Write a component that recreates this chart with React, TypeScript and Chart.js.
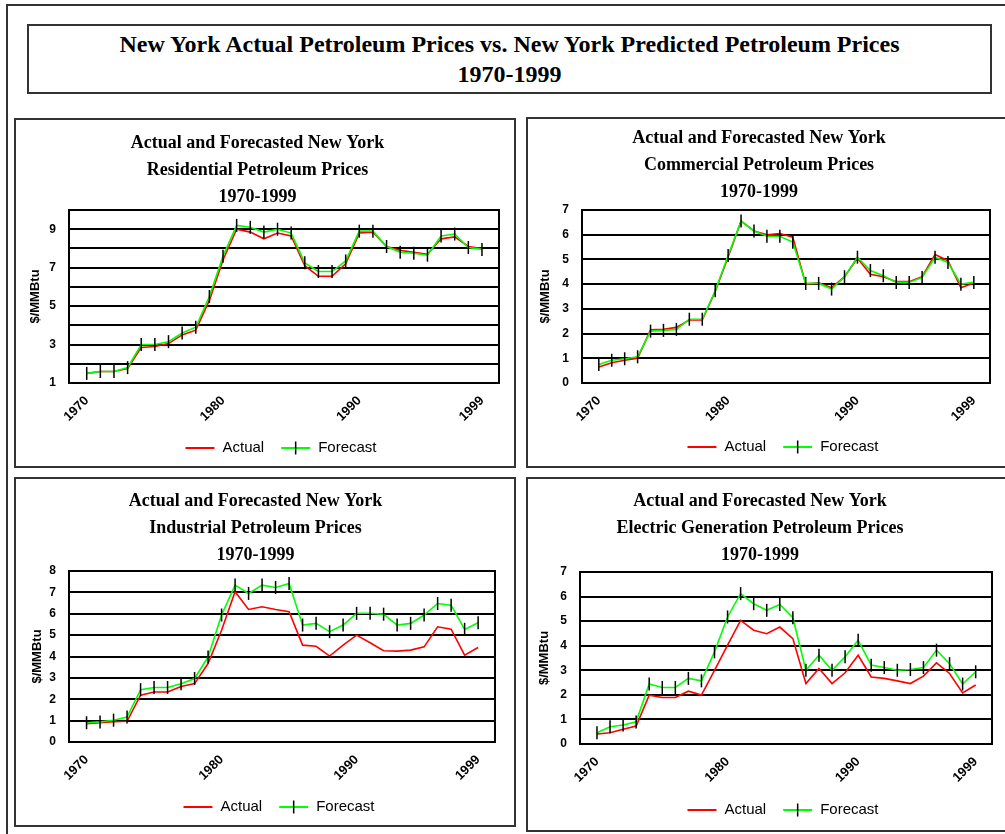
import React, { useEffect, useRef } from 'react';
import { Chart, registerables } from 'chart.js';

Chart.register(...registerables);

// ---------- data ----------
const YEARS = [1970, 1971, 1972, 1973, 1974, 1975, 1976, 1977, 1978, 1979, 1980, 1981, 1982, 1983, 1984, 1985, 1986, 1987, 1988, 1989, 1990, 1991, 1992, 1993, 1994, 1995, 1996, 1997, 1998, 1999];
const X_TICKS = [1970, 1980, 1990, 1999];

const RES_ACTUAL = [1.5, 1.6, 1.6, 1.75, 2.85, 2.9, 3.05, 3.5, 3.75, 5.3, 7.4, 9.0, 8.85, 8.5, 8.8, 8.65, 7.1, 6.55, 6.55, 7.2, 8.8, 8.85, 8.1, 7.9, 7.8, 7.7, 8.5, 8.6, 8.1, 8.0];
const RES_FORECAST = [1.5, 1.6, 1.6, 1.8, 3.0, 3.0, 3.15, 3.6, 3.9, 5.5, 7.6, 9.2, 9.1, 8.85, 9.0, 8.8, 7.25, 6.8, 6.8, 7.35, 8.9, 8.9, 8.1, 7.8, 7.75, 7.65, 8.65, 8.75, 8.05, 7.95];

const COM_ACTUAL = [0.65, 0.82, 0.92, 1.0, 2.15, 2.17, 2.25, 2.55, 2.55, 3.7, 5.1, 6.55, 6.15, 6.0, 6.05, 5.9, 4.0, 4.05, 3.85, 4.3, 5.05, 4.4, 4.3, 4.1, 4.1, 4.3, 5.2, 4.95, 3.85, 4.05];
const COM_FORECAST = [0.75, 0.92, 0.98, 1.06, 2.1, 2.13, 2.17, 2.58, 2.58, 3.73, 5.16, 6.55, 6.15, 5.94, 5.94, 5.7, 4.03, 4.03, 3.8, 4.3, 5.09, 4.55, 4.34, 4.07, 4.07, 4.27, 5.09, 4.88, 4.0, 4.07];

const IND_ACTUAL = [0.86, 0.9, 0.95, 0.97, 2.19, 2.34, 2.34, 2.6, 2.73, 3.67, 5.23, 7.03, 6.2, 6.33, 6.2, 6.1, 4.53, 4.48, 4.02, 4.53, 5.0, 4.64, 4.27, 4.25, 4.3, 4.45, 5.39, 5.28, 4.06, 4.42];
const IND_FORECAST = [0.9, 0.94, 1.02, 1.17, 2.45, 2.55, 2.55, 2.73, 2.97, 3.98, 5.94, 7.34, 6.95, 7.34, 7.23, 7.42, 5.47, 5.55, 5.16, 5.47, 6.02, 6.02, 5.98, 5.47, 5.55, 5.94, 6.48, 6.4, 5.27, 5.58];

const ELE_ACTUAL = [0.41, 0.46, 0.6, 0.73, 1.99, 1.89, 1.89, 2.15, 1.99, 3.0, 4.02, 5.03, 4.63, 4.49, 4.76, 4.29, 2.46, 3.07, 2.46, 2.9, 3.61, 2.73, 2.67, 2.57, 2.46, 2.76, 3.3, 2.87, 2.08, 2.4];
const ELE_FORECAST = [0.46, 0.7, 0.77, 0.9, 2.44, 2.3, 2.3, 2.67, 2.57, 3.75, 5.17, 6.12, 5.71, 5.44, 5.68, 5.14, 3.0, 3.61, 3.0, 3.55, 4.22, 3.21, 3.11, 3.0, 3.03, 3.11, 3.82, 3.27, 2.44, 2.94];

const MAIN_TITLE = ['New York Actual Petroleum Prices vs. New York Predicted Petroleum Prices', '1970-1999'];
const RES_TITLE = ['Actual and Forecasted New York', 'Residential Petroleum Prices', '1970-1999'];
const COM_TITLE = ['Actual and Forecasted New York', 'Commercial Petroleum Prices', '1970-1999'];
const IND_TITLE = ['Actual and Forecasted New York', 'Industrial Petroleum Prices', '1970-1999'];
const ELE_TITLE = ['Actual and Forecasted New York', 'Electric Generation Petroleum Prices', '1970-1999'];
const Y_TITLE = '$/MMBtu';
const SERIES_LABELS = ['Actual', 'Forecast'];

// ---------- styles ----------
const SERIF = '"Liberation Serif", "Times New Roman", serif';
const SANS = '"Liberation Sans", Arial, sans-serif';
const RED = '#ff0000';
const GREEN = '#00ff00';
const BORDER = '2px solid #333';

type Box = { left: number; top: number; width: number; height: number };
type Plot = { left: number; top: number; right: number; bottom: number };

interface PanelProps {
  title: string[];
  actual: number[];
  forecast: number[];
  yMin: number;
  yMax: number;
  oddOnly: boolean;
  box: Box;
  plot: Plot;
  titleY: number;
  legendY: number;
  yTitleX: number;
}

const TITLE_LINE = 27;
const X_AXIS_H = 50;

function Panel(p: PanelProps) {
  const ref = useRef<HTMLCanvasElement | null>(null);
  const il = p.box.left + 2;
  const it = p.box.top + 2;
  const w = p.box.width - 4;
  const h = p.box.height - 4;

  useEffect(() => {
    if (!ref.current) return;
    const pl = p.plot.left - il;
    const pt = p.plot.top - it;
    const pr = w - (p.plot.right - il);
    const pb = p.plot.bottom - it;
    const titlePadTop = p.titleY - it - TITLE_LINE / 2;
    const titlePadBottom = pt - titlePadTop - TITLE_LINE * p.title.length;
    const legendCanvasY = p.legendY - it;

    const frame = {
      id: 'frame',
      beforeDatasetsDraw(chart: any) {
        const { ctx, chartArea: a } = chart;
        ctx.save();
        ctx.strokeStyle = '#000';
        ctx.lineWidth = 2;
        ctx.strokeRect(a.left, a.top, a.right - a.left, a.bottom - a.top);
        ctx.restore();
      },
    };

    const legend = {
      id: 'customLegend',
      afterDraw(chart: any) {
        const { ctx, chartArea: a } = chart;
        ctx.save();
        ctx.font = `15px ${SANS}`;
        ctx.textBaseline = 'middle';
        const lineLen = 29;
        const gapText = 8;
        const gapItem = 17;
        const w0 = ctx.measureText(SERIES_LABELS[0]).width;
        const w1 = ctx.measureText(SERIES_LABELS[1]).width;
        const total = lineLen + gapText + w0 + gapItem + lineLen + gapText + w1;
        let x = (a.left + a.right) / 2 - 3 - total / 2;
        const y = legendCanvasY;
        ctx.strokeStyle = RED;
        ctx.lineWidth = 2;
        ctx.beginPath();
        ctx.moveTo(x, y);
        ctx.lineTo(x + lineLen, y);
        ctx.stroke();
        ctx.fillStyle = '#000';
        ctx.fillText(SERIES_LABELS[0], x + lineLen + gapText, y);
        x += lineLen + gapText + w0 + gapItem;
        ctx.strokeStyle = GREEN;
        ctx.beginPath();
        ctx.moveTo(x, y);
        ctx.lineTo(x + lineLen, y);
        ctx.stroke();
        ctx.strokeStyle = '#000';
        ctx.lineWidth = 1.5;
        ctx.beginPath();
        ctx.moveTo(x + lineLen / 2, y - 6.5);
        ctx.lineTo(x + lineLen / 2, y + 6.5);
        ctx.stroke();
        ctx.fillText(SERIES_LABELS[1], x + lineLen + gapText, y);
        ctx.restore();
      },
    };

    const chart = new Chart(ref.current, {
      type: 'line',
      data: {
        datasets: [
          {
            label: SERIES_LABELS[0],
            data: YEARS.map((yr, i) => ({ x: yr, y: p.actual[i] })),
            borderColor: RED,
            backgroundColor: RED,
            borderWidth: 1.6,
            pointRadius: 0,
            tension: 0,
            order: 2,
          },
          {
            label: SERIES_LABELS[1],
            data: YEARS.map((yr, i) => ({ x: yr, y: p.forecast[i] })),
            borderColor: GREEN,
            backgroundColor: GREEN,
            borderWidth: 1.6,
            pointStyle: 'line',
            pointRotation: 90,
            pointRadius: 6.5,
            pointBorderColor: '#000',
            pointBorderWidth: 1.5,
            tension: 0,
            order: 1,
          },
        ],
      },
      options: {
        responsive: false,
        animation: false,
        events: [],
        layout: {
          autoPadding: false,
          padding: { left: 0, top: 0, right: pr, bottom: h - pb - X_AXIS_H },
        },
        plugins: {
          legend: { display: false },
          tooltip: { enabled: false },
          title: {
            display: true,
            text: p.title,
            color: '#000',
            font: { family: SERIF, size: 18, weight: 'bold', lineHeight: TITLE_LINE / 18 },
            padding: { top: titlePadTop, bottom: titlePadBottom },
          },
        },
        scales: {
          x: {
            type: 'linear',
            min: 1968.7,
            max: 2000.25,
            afterBuildTicks: (scale: any) => {
              scale.ticks = X_TICKS.map((v) => ({ value: v }));
            },
            afterFit: (scale: any) => {
              scale.height = X_AXIS_H;
            },
            grid: { display: false, drawTicks: false },
            border: { display: false },
            ticks: {
              autoSkip: false,
              minRotation: 45,
              maxRotation: 45,
              padding: 10,
              color: '#000',
              font: { family: SANS, size: 13, weight: 'bold' },
              callback: (v: any) => String(v),
            },
          },
          y: {
            type: 'linear',
            min: p.yMin,
            max: p.yMax,
            afterFit: (scale: any) => {
              scale.width = pl;
            },
            grid: { color: '#000', lineWidth: 2, drawTicks: false },
            border: { display: false },
            title: {
              display: true,
              text: Y_TITLE,
              color: '#000',
              font: { family: SANS, size: 13, weight: 'bold', lineHeight: 1.2 },
              padding: { top: p.yTitleX - il - 7.8, bottom: 0 },
            },
            ticks: {
              stepSize: 1,
              padding: 13,
              color: '#000',
              font: { family: SANS, size: 12, weight: 'bold' },
              callback: (v: any) => {
                const n = Number(v);
                if (p.oddOnly) return n % 2 === 1 ? String(n) : '';
                return String(n);
              },
            },
          },
        },
      },
      plugins: [frame, legend],
    } as any);
    return () => chart.destroy();
  }, []);

  return (
    <div
      style={{
        position: 'absolute',
        left: p.box.left,
        top: p.box.top,
        width: w,
        height: h,
        border: BORDER,
        background: '#fff',
      }}
    >
      <canvas ref={ref} width={w} height={h} style={{ display: 'block', width: w, height: h }} />
    </div>
  );
}

export default function App() {
  return (
    <div
      style={{
        position: 'fixed',
        left: 0,
        top: 0,
        width: 1005,
        height: 834,
        overflow: 'hidden',
        background: '#fff',
      }}
    >
      <div
        style={{
          position: 'absolute',
          left: 6,
          top: 4,
          width: 1010,
          height: 840,
          border: BORDER,
        }}
      />
      <div
        style={{
          position: 'absolute',
          left: 27,
          top: 24,
          width: 961,
          height: 66,
          border: BORDER,
          background: '#fff',
        }}
      >
        <div
          style={{
            position: 'absolute',
            left: 0,
            right: 0,
            top: 3,
            textAlign: 'center',
            fontFamily: SERIF,
            fontWeight: 'bold',
            fontSize: 24,
            lineHeight: '30px',
            color: '#000',
          }}
        >
          {MAIN_TITLE.map((t, i) => (
            <div key={i}>{t}</div>
          ))}
        </div>
      </div>
      <Panel
        title={RES_TITLE}
        actual={RES_ACTUAL}
        forecast={RES_FORECAST}
        yMin={1}
        yMax={10}
        oddOnly={true}
        box={{ left: 14, top: 118, width: 502, height: 350 }}
        plot={{ left: 69, top: 210, right: 499, bottom: 383 }}
        titleY={143}
        legendY={448}
        yTitleX={35}
      />
      <Panel
        title={COM_TITLE}
        actual={COM_ACTUAL}
        forecast={COM_FORECAST}
        yMin={0}
        yMax={7}
        oddOnly={false}
        box={{ left: 526, top: 117, width: 485, height: 351 }}
        plot={{ left: 582, top: 210, right: 990, bottom: 383 }}
        titleY={138}
        legendY={447}
        yTitleX={545}
      />
      <Panel
        title={IND_TITLE}
        actual={IND_ACTUAL}
        forecast={IND_FORECAST}
        yMin={0}
        yMax={8}
        oddOnly={false}
        box={{ left: 14, top: 477, width: 502, height: 350 }}
        plot={{ left: 69, top: 571, right: 495, bottom: 742 }}
        titleY={501}
        legendY={807}
        yTitleX={37}
      />
      <Panel
        title={ELE_TITLE}
        actual={ELE_ACTUAL}
        forecast={ELE_FORECAST}
        yMin={0}
        yMax={7}
        oddOnly={false}
        box={{ left: 526, top: 477, width: 485, height: 355 }}
        plot={{ left: 580, top: 572, right: 992, bottom: 744 }}
        titleY={501}
        legendY={810}
        yTitleX={544}
      />
    </div>
  );
}
